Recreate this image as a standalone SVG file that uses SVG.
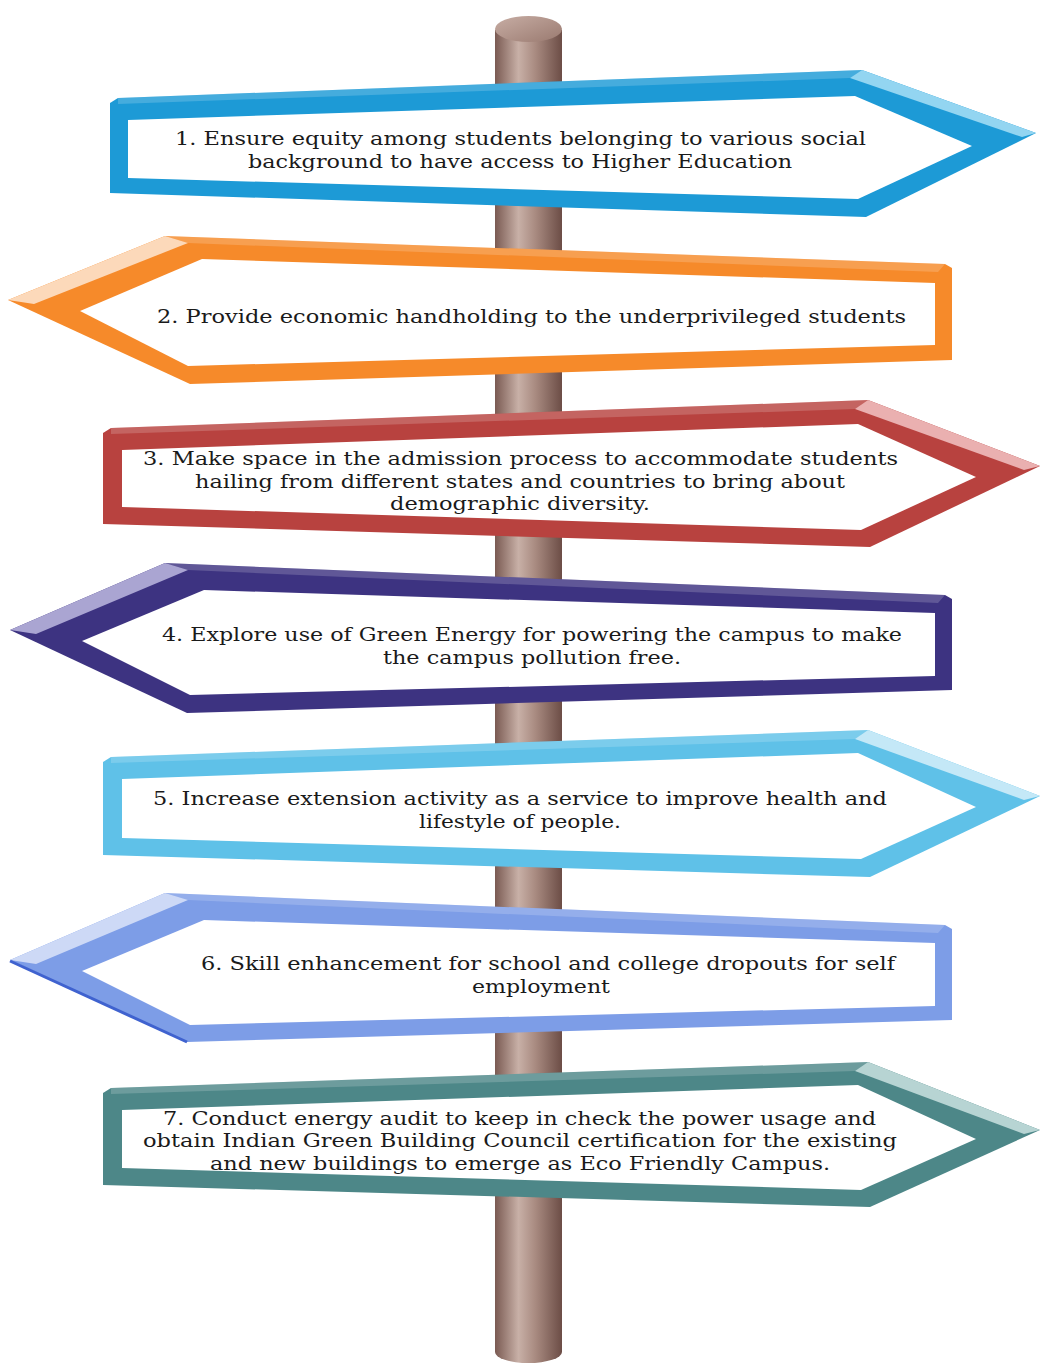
<svg xmlns="http://www.w3.org/2000/svg" width="1040" height="1365" viewBox="0 0 1040 1365">
<defs>
<linearGradient id="poleGrad" x1="0" y1="0" x2="1" y2="0">
<stop offset="0" stop-color="#7a5a52"/>
<stop offset="0.35" stop-color="#c8b0a7"/>
<stop offset="0.6" stop-color="#a98b81"/>
<stop offset="1" stop-color="#6c4d46"/>
</linearGradient>
<linearGradient id="capGrad" x1="0" y1="0" x2="1" y2="1">
<stop offset="0" stop-color="#c7ada4"/>
<stop offset="1" stop-color="#9a7a70"/>
</linearGradient>
</defs>
<style>
.inner{fill:#ffffff}
.txt{font-family:"DejaVu Serif","Liberation Serif",serif;font-size:19px;fill:#1a1a1a;text-anchor:start}
.s1{fill:#1d9ad6}.b1{fill:#93d5f1}
.s2{fill:#f68a2a}.b2{fill:#fcd9ba}
.s3{fill:#b8423f}.b3{fill:#eab0b0}
.s4{fill:#3d3381}.b4{fill:#aaa5d2}
.s5{fill:#5fc1e8}.b5{fill:#c4e8f7}
.s6{fill:#7d9de7}.b6{fill:#cdd9f6}
.s7{fill:#4d8788}.b7{fill:#b7d4d3}
.top{fill:#ffffff;opacity:0.18}
</style>
<rect width="1040" height="1365" fill="#ffffff"/>

<g id="pole">
<rect x="495" y="30" width="67" height="1322" fill="url(#poleGrad)"/>
<ellipse cx="528.5" cy="1352" rx="33.5" ry="11" fill="url(#poleGrad)"/>
<ellipse cx="528.5" cy="29" rx="33.5" ry="13" fill="url(#capGrad)"/>
</g>

<g id="connectors"/>

<g id="sign-1">
<polygon class="s1" points="110,103 118,98 862,70 1036,133 866,217 110,193"/>
<polygon class="b1" points="862,70 1036,133 1022,137 850,78"/>
<polygon class="top" points="118,98 862,70 850,78 118,104"/>
<polygon class="inner" points="128,120 855,96 972,146 858,199 128,178"/>
<text class="txt" x="175" y="145" textLength="691" lengthAdjust="spacingAndGlyphs">1. Ensure equity among students belonging to various social</text>
<text class="txt" x="248" y="168" textLength="544" lengthAdjust="spacingAndGlyphs">background to have access to Higher Education</text>
</g>

<g id="sign-2">
<polygon class="s2" points="8,300 165,236 945,264 952,268 952,360 190,384"/>
<polygon class="b2" points="8,300 165,236 188,243 34,304"/>
<polygon class="top" points="165,236 945,264 938,272 188,243"/>
<polygon class="inner" points="80,311 202,259 935,283 935,345 188,366"/>
<text class="txt" x="157" y="323" textLength="749" lengthAdjust="spacingAndGlyphs">2. Provide economic handholding to the underprivileged students</text>
</g>

<g id="sign-3">
<polygon class="s3" points="103,433 111,428 868,400 1040,466 870,547 103,524"/>
<polygon class="b3" points="868,400 1040,466 1024,470 855,409"/>
<polygon class="top" points="111,428 868,400 855,409 111,434"/>
<polygon class="inner" points="122,450 858,424 976,477 861,530 122,507"/>
<text class="txt" x="143" y="465" textLength="755" lengthAdjust="spacingAndGlyphs">3. Make space in the admission process to accommodate students</text>
<text class="txt" x="195" y="488" textLength="650" lengthAdjust="spacingAndGlyphs">hailing from different states and countries to bring about</text>
<text class="txt" x="390" y="510" textLength="260" lengthAdjust="spacingAndGlyphs">demographic diversity.</text>
</g>

<g id="sign-4">
<polygon class="s4" points="10,630 165,563 945,595 952,599 952,690 187,713"/>
<polygon class="b4" points="10,630 165,563 188,570 36,634"/>
<polygon class="top" points="165,563 945,595 938,603 188,570"/>
<polygon class="inner" points="82,641 204,590 935,613 935,676 190,695"/>
<text class="txt" x="162" y="641" textLength="740" lengthAdjust="spacingAndGlyphs">4. Explore use of Green Energy for powering the campus to make</text>
<text class="txt" x="383" y="664" textLength="298" lengthAdjust="spacingAndGlyphs">the campus pollution free.</text>
</g>

<g id="sign-5">
<polygon class="s5" points="103,762 111,757 868,730 1040,796 870,877 103,855"/>
<polygon class="b5" points="868,730 1040,796 1024,800 855,739"/>
<polygon class="top" points="111,757 868,730 855,739 111,763"/>
<polygon class="inner" points="122,779 858,753 976,807 861,859 122,838"/>
<text class="txt" x="153" y="805" textLength="734" lengthAdjust="spacingAndGlyphs">5. Increase extension activity as a service to improve health and</text>
<text class="txt" x="419" y="828" textLength="202" lengthAdjust="spacingAndGlyphs">lifestyle of people.</text>
</g>

<g id="sign-6">
<polygon class="s6" points="10,960 165,893 945,925 952,929 952,1020 187,1042"/>
<polygon class="b6" points="10,960 165,893 188,900 36,964"/>
<polyline points="10,961 187,1042" fill="none" stroke="#3f62cf" stroke-width="3"/>
<polygon class="top" points="165,893 945,925 938,933 188,900"/>
<polygon class="inner" points="82,971 204,920 935,943 935,1006 190,1025"/>
<text class="txt" x="201" y="970" textLength="694" lengthAdjust="spacingAndGlyphs">6. Skill enhancement for school and college dropouts for self</text>
<text class="txt" x="472" y="993" textLength="138" lengthAdjust="spacingAndGlyphs">employment</text>
</g>

<g id="sign-7">
<polygon class="s7" points="103,1093 111,1088 868,1062 1040,1130 870,1207 103,1185"/>
<polygon class="b7" points="868,1062 1040,1130 1024,1134 855,1071"/>
<polygon class="top" points="111,1088 868,1062 855,1071 111,1094"/>
<polygon class="inner" points="122,1110 858,1085 976,1139 861,1190 122,1168"/>
<text class="txt" x="163" y="1125" textLength="713" lengthAdjust="spacingAndGlyphs">7. Conduct energy audit to keep in check the power usage and</text>
<text class="txt" x="143" y="1147" textLength="754" lengthAdjust="spacingAndGlyphs">obtain Indian Green Building Council certification for the existing</text>
<text class="txt" x="210" y="1170" textLength="620" lengthAdjust="spacingAndGlyphs">and new buildings to emerge as Eco Friendly Campus.</text>
</g>
</svg>
